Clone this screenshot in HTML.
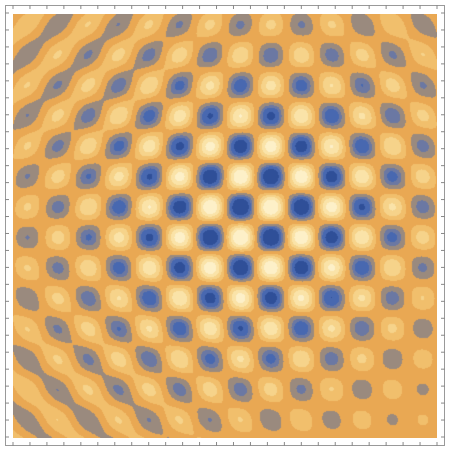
<!DOCTYPE html>
<html><head><meta charset="utf-8">
<style>
html,body{margin:0;padding:0;background:#fff;width:455px;height:456px;overflow:hidden;font-family:"Liberation Sans",sans-serif}
#wrap{position:relative;width:455px;height:456px}
#frame{position:absolute;left:5px;top:5px;width:440px;height:441px;border:1px solid #999;box-sizing:border-box}
#plot{position:absolute;left:13px;top:14px}
svg{position:absolute;left:0;top:0}
</style></head><body>
<div id="wrap">
<div id="frame"></div>
<canvas id="plot" width="424" height="424"></canvas>
<svg id="ticks" width="455" height="456"></svg>
</div>
<script>
// field parameters (pixel-space model of the plotted function)
const period = [61];
const origin = [240, 237];
const centerEnv = [262, 220, 110, 0.88];
const wave1Extra = [40, 40, 150, 0.42];
const wave2Extra = [40, 430, 150, 0.42];
const wave2Extra2 = [440, 30, 110, 0.3];
const baseAmp = [0.08];
// contour thresholds and colours
const levels = [-1.35, -0.95, -0.68, -0.3, 0.25, 0.65, 1.05, 1.45];
const colors = ["#2f4f98","#4868b0","#6b78a3","#9a8a7e","#e9a853","#f1bf6c","#f6d38a","#fae3a8","#fdf0c8"];
const tickCount = [25];

function hex(c){return [parseInt(c.slice(1,3),16),parseInt(c.slice(3,5),16),parseInt(c.slice(5,7),16)];}
const rgb = colors.map(hex);
function G(x,y,cx,cy,s){const dx=x-cx,dy=y-cy;return Math.exp(-(dx*dx+dy*dy)/(2*s*s));}
function field(x,y){
  const k=2*Math.PI/period[0];
  const u=(x-origin[0])+(y-origin[1]), v=(x-origin[0])-(y-origin[1]);
  const c=centerEnv[3]*G(x,y,centerEnv[0],centerEnv[1],centerEnv[2]);
  const w1=baseAmp[0]+c+wave1Extra[3]*G(x,y,wave1Extra[0],wave1Extra[1],wave1Extra[2]);
  const w2=baseAmp[0]+c+wave2Extra[3]*G(x,y,wave2Extra[0],wave2Extra[1],wave2Extra[2])
          +wave2Extra2[3]*G(x,y,wave2Extra2[0],wave2Extra2[1],wave2Extra2[2]);
  return w1*Math.cos(k*u)+w2*Math.cos(k*v);
}
const cv=document.getElementById('plot');
const ctx=cv.getContext('2d');
const img=ctx.createImageData(424,424);
for(let j=0;j<424;j++){for(let i=0;i<424;i++){
  const f=field(i+13,j+14);
  let L=0;while(L<levels.length&&f>levels[L])L++;
  const p=(j*424+i)*4,c=rgb[L];
  img.data[p]=c[0];img.data[p+1]=c[1];img.data[p+2]=c[2];img.data[p+3]=255;
}}
ctx.putImageData(img,0,0);

const svg=document.getElementById('ticks');
const NS="http://www.w3.org/2000/svg";
for(let t=0;t<=tickCount[0];t++){
  const px=13+t*424/tickCount[0];
  const segs=[[px,5,px,9],[px,446,px,442],[5,px,9,px],[445,px,441,px]];
  segs.forEach(s=>{
    const l=document.createElementNS(NS,'line');
    
    
    l.setAttribute('x1',s[0]);l.setAttribute('y1',s[1]);l.setAttribute('x2',s[2]);l.setAttribute('y2',s[3]);
    l.setAttribute('stroke','#888');l.setAttribute('stroke-width','1');
    svg.appendChild(l);
  });
}
</script>
</body></html>
